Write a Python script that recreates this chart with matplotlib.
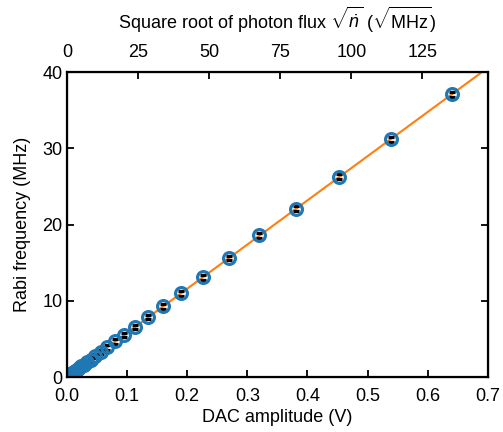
import numpy as np
import matplotlib
matplotlib.use("Agg")
import matplotlib.pyplot as plt

plt.rcParams['font.family'] = ['Liberation Sans', 'DejaVu Sans']
plt.rcParams['mathtext.fontset'] = 'custom'
plt.rcParams['mathtext.rm'] = 'Liberation Sans'
plt.rcParams['mathtext.it'] = 'Liberation Sans:italic'

# data
dac = [0.641, 0.539, 0.453, 0.381, 0.320, 0.269, 0.226, 0.190, 0.160, 0.135,
       0.113, 0.095, 0.080, 0.067, 0.057, 0.047, 0.040, 0.034, 0.028, 0.024,
       0.020, 0.017, 0.014, 0.012, 0.010, 0.0084, 0.0071, 0.006, 0.005, 0.0042]
rabi = [37.1, 31.2, 26.3, 22.1, 18.6, 15.6, 13.1, 11.0, 9.3, 7.9,
        6.6, 5.5, 4.7, 3.9, 3.3, 2.75, 2.3, 1.95, 1.65, 1.4,
        1.16, 0.98, 0.82, 0.69, 0.58, 0.49, 0.41, 0.35, 0.29, 0.25]
rabi_err = [0.3] * len(dac)
top_ticks = [0, 25, 50, 75, 100, 125]
top_max = 148

dac = np.array(dac)
rabi = np.array(rabi)
slope = np.sum(dac * rabi) / np.sum(dac * dac)

fs = 13
fig = plt.figure(figsize=(5.03, 4.32), dpi=100)
ax = fig.add_axes([0.133, 0.127, 0.837, 0.706])

xx = np.linspace(0, 0.7, 50)
ax.plot(xx, slope * xx, color='#ff7f0e', lw=1.5, zorder=1)
ax.errorbar(dac, rabi, yerr=rabi_err, fmt='o', mfc='none', mec='#1f77b4', mew=2.3,
            ms=8.5, ecolor='black', elinewidth=0, capsize=2.5, capthick=1.0, zorder=2)

ax.set_xlim(0, 0.7)
ax.set_ylim(0, 40)
ax.set_xticks(np.arange(0, 0.71, 0.1))
ax.set_xticklabels(['0.0', '0.1', '0.2', '0.3', '0.4', '0.5', '0.6', '0.7'])
ax.set_yticks([0, 10, 20, 30, 40])
ax.tick_params(direction='in', labelsize=fs, width=1.3, length=5, right=True)
ax.tick_params(axis='x', pad=8)
ax.tick_params(axis='y', pad=3)
ax.set_xlabel('DAC amplitude (V)', fontsize=fs, labelpad=3)
ax.set_ylabel('Rabi frequency (MHz)', fontsize=fs, labelpad=8)
for s in ax.spines.values():
    s.set_linewidth(1.6)

ax2 = ax.twiny()
ax2.set_xlim(0, top_max)
ax2.set_xticks(top_ticks)
ax2.tick_params(direction='in', labelsize=fs, width=1.3, length=5, pad=8)
ax2.set_xlabel(r'Square root of photon flux $\sqrt{\dot{n}}$ ($\sqrt{\mathrm{MHz}}$)',
               fontsize=fs, labelpad=11)

fig.savefig('out.png', dpi=100)
